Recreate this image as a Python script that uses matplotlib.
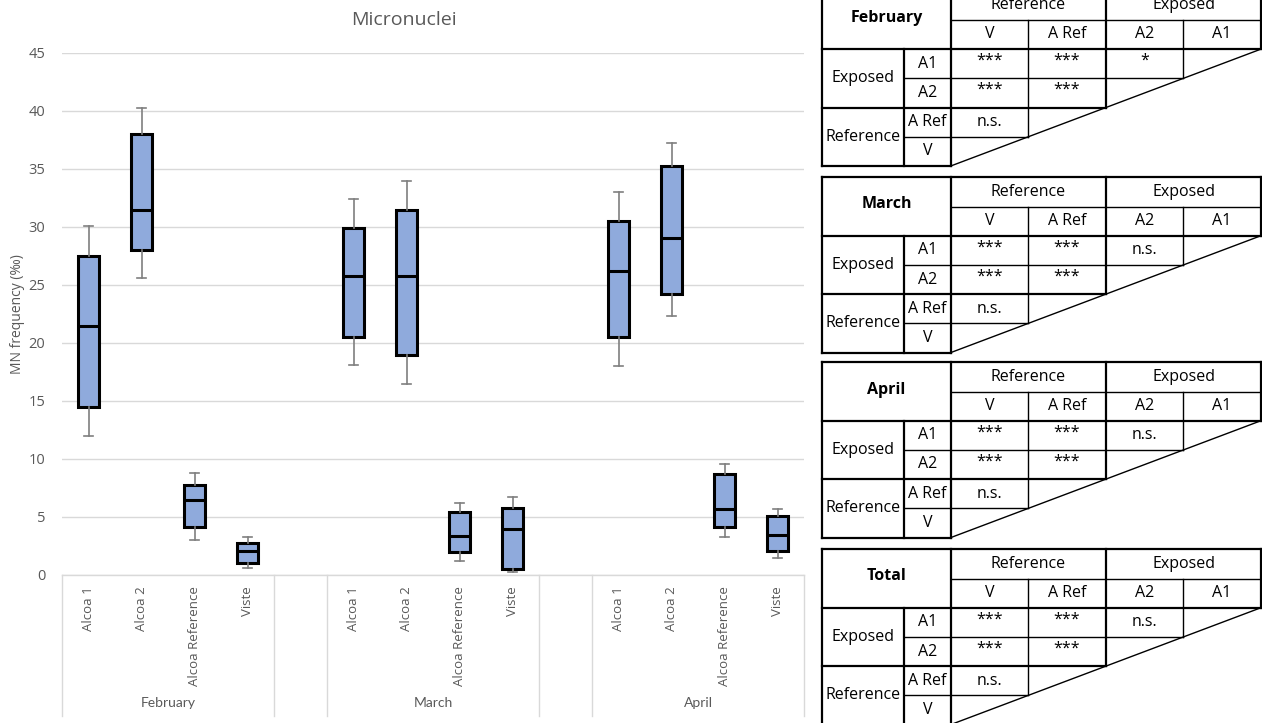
import matplotlib
matplotlib.use("Agg")
import matplotlib.pyplot as plt

plt.rcParams['font.family'] = ['Open Sans', 'DejaVu Sans']

# -------------------------------
# Box plot data (MN frequency, per mille)
# -------------------------------

months = ["February", "March", "April"]
sites = ["Alcoa 1", "Alcoa 2", "Alcoa Reference", "Viste"]

whisker_low = {
    "February": [12.0, 25.6, 3.0, 0.6],
    "March": [18.1, 16.5, 1.2, 0.25],
    "April": [18.0, 22.3, 3.25, 1.45],
}
q1 = {
    "February": [14.5, 28.0, 4.1, 1.0],
    "March": [20.5, 19.0, 2.0, 0.55],
    "April": [20.5, 24.25, 4.1, 2.1],
}
median = {
    "February": [21.5, 31.5, 6.5, 2.1],
    "March": [25.8, 25.8, 3.4, 4.0],
    "April": [26.25, 29.05, 5.7, 3.45],
}
q3 = {
    "February": [27.5, 38.0, 7.8, 2.75],
    "March": [29.95, 31.5, 5.4, 5.8],
    "April": [30.5, 35.25, 8.7, 5.1],
}
whisker_high = {
    "February": [30.1, 40.3, 8.8, 3.3],
    "March": [32.4, 34.0, 6.25, 6.75],
    "April": [33.0, 37.2, 9.55, 5.7],
}

# -------------------------------
# Significance tables
# -------------------------------

table_titles = ["February", "March", "April", "Total"]
col_labels = ["V", "A Ref", "A2", "A1"]
row_labels = ["A1", "A2", "A Ref", "V"]
sig_a1 = {
    "February": ["***", "***", "*"],
    "March": ["***", "***", "n.s."],
    "April": ["***", "***", "n.s."],
    "Total": ["***", "***", "n.s."],
}
sig_a2 = {
    "February": ["***", "***"],
    "March": ["***", "***"],
    "April": ["***", "***"],
    "Total": ["***", "***"],
}
sig_aref = {
    "February": ["n.s."],
    "March": ["n.s."],
    "April": ["n.s."],
    "Total": ["n.s."],
}

# -------------------------------
# Figure
# -------------------------------

W, H = 1262, 723
fig = plt.figure(figsize=(W / 100, H / 100), dpi=100)

ax_left, ax_right, ax_top, ax_bottom = 62, 804, 53, 575
ax = fig.add_axes([ax_left / W, 1 - ax_bottom / H,
                   (ax_right - ax_left) / W, (ax_bottom - ax_top) / H])

grey = "#595959"
grid_col = "#D9D9D9"

stats = []
positions = []
tick_labels = []
for g, m in enumerate(months):
    for i, s in enumerate(sites):
        stats.append({
            "whislo": whisker_low[m][i],
            "q1": q1[m][i],
            "med": median[m][i],
            "q3": q3[m][i],
            "whishi": whisker_high[m][i],
            "fliers": [],
        })
        positions.append(g * 5 + i)
        tick_labels.append(s)

ax.bxp(
    stats,
    positions=positions,
    widths=0.41,
    capwidths=0.16,
    patch_artist=True,
    showfliers=False,
    boxprops=dict(facecolor="#8FAADC", edgecolor="black", linewidth=2.2),
    medianprops=dict(color="black", linewidth=2.2),
    whiskerprops=dict(color="#7F7F7F", linewidth=1.2),
    capprops=dict(color="#7F7F7F", linewidth=1.2),
    zorder=3,
)

ax.set_xlim(-0.5, 13.5)
ax.set_ylim(0, 45)
ax.set_yticks(range(0, 46, 5))
ax.grid(axis="y", color=grid_col, linewidth=1.0)
ax.set_axisbelow(True)

for side in ["left", "right", "top"]:
    ax.spines[side].set_visible(False)
ax.spines["bottom"].set_color(grid_col)
ax.spines["bottom"].set_linewidth(1.0)

ax.set_xticks(positions)
ax.set_xticklabels(tick_labels, rotation=90, fontsize=9.5, color=grey)
ax.tick_params(axis="x", length=0, pad=8)
ax.tick_params(axis="y", length=0, pad=12, labelsize=10.5, labelcolor=grey)

# group separators and month labels under the axis
sep_bottom = (ax_bottom - 716) / (ax_bottom - ax_top)
trans = ax.get_xaxis_transform()
for x in [-0.5, 3.5, 4.5, 8.5, 9.5, 13.5]:
    ax.plot([x, x], [0, sep_bottom], transform=trans, color=grid_col,
            linewidth=1.0, clip_on=False)

month_y = (ax_bottom - 703) / (ax_bottom - ax_top)
for g, m in enumerate(months):
    ax.text(g * 5 + 1.5, month_y, m, transform=trans, ha="center",
            va="center", fontsize=10, color=grey, family=["Lato", "DejaVu Sans"])

fig.text(404 / W, 1 - 20 / H, "Micronuclei", ha="center", va="center",
         fontsize=14, color=grey)
fig.text(18 / W, 1 - 314 / H, "MN frequency (‰)", rotation=90,
         ha="center", va="center", fontsize=10, color=grey)

# -------------------------------
# Tables drawn in pixel coordinates
# -------------------------------

tx = fig.add_axes([0, 0, 1, 1])
tx.set_xlim(0, W)
tx.set_ylim(H, 0)
tx.axis("off")

cx = [822, 904, 951, 1028, 1106, 1183, 1261]
row_h = 29.2
table_tops = [-9.3, 177.3, 362.3, 549.3]
thick, thin = 1.6, 1.0
tfont = dict(fontsize=11.5, color="black", ha="center", va="center")


def hline(y, x0, x1, lw):
    tx.plot([x0, x1], [y, y], color="black", linewidth=lw,
            solid_capstyle="projecting")


def vline(x, y0, y1, lw):
    tx.plot([x, x], [y0, y1], color="black", linewidth=lw,
            solid_capstyle="projecting")


for name, top in zip(table_titles, table_tops):
    r = [top + row_h * k for k in range(7)]

    # horizontal rules
    hline(r[0], cx[0], cx[6], thick)
    hline(r[1], cx[2], cx[6], thin)
    hline(r[2], cx[0], cx[6], thick)
    hline(r[3], cx[1], cx[5], thin)
    hline(r[4], cx[0], cx[4], thick)
    hline(r[5], cx[1], cx[3], thin)
    hline(r[6], cx[0], cx[2], thick)

    # vertical rules
    vline(cx[0], r[0], r[6], thick)
    vline(cx[1], r[2], r[6], thick)
    vline(cx[2], r[0], r[6], thick)
    vline(cx[3], r[1], r[5], thin)
    vline(cx[4], r[0], r[4], thick)
    vline(cx[5], r[1], r[3], thin)
    vline(cx[6], r[0], r[2], thick)

    # diagonal closing the lower triangle
    tx.plot([cx[2], cx[6]], [r[6], r[2]], color="black", linewidth=thin)

    # header text
    tx.text((cx[0] + cx[2]) / 2, (r[0] + r[2]) / 2 - 2, name,
            fontweight="bold", **tfont)
    tx.text((cx[2] + cx[4]) / 2, (r[0] + r[1]) / 2, "Reference", **tfont)
    tx.text((cx[4] + cx[6]) / 2, (r[0] + r[1]) / 2, "Exposed", **tfont)
    for j, lab in enumerate(col_labels):
        tx.text((cx[2 + j] + cx[3 + j]) / 2, (r[1] + r[2]) / 2, lab, **tfont)

    tx.text((cx[0] + cx[1]) / 2, (r[2] + r[4]) / 2, "Exposed", **tfont)
    tx.text((cx[0] + cx[1]) / 2, (r[4] + r[6]) / 2, "Reference", **tfont)
    for i, lab in enumerate(row_labels):
        tx.text((cx[1] + cx[2]) / 2, (r[2 + i] + r[3 + i]) / 2, lab, **tfont)

    # significance marks
    for i, row in enumerate([sig_a1[name], sig_a2[name], sig_aref[name]]):
        for j, val in enumerate(row):
            yoff = -3 if val.startswith("*") else 0
            tx.text((cx[2 + j] + cx[3 + j]) / 2,
                    (r[2 + i] + r[3 + i]) / 2 + yoff, val, **tfont)

fig.savefig("out.png", dpi=100)
